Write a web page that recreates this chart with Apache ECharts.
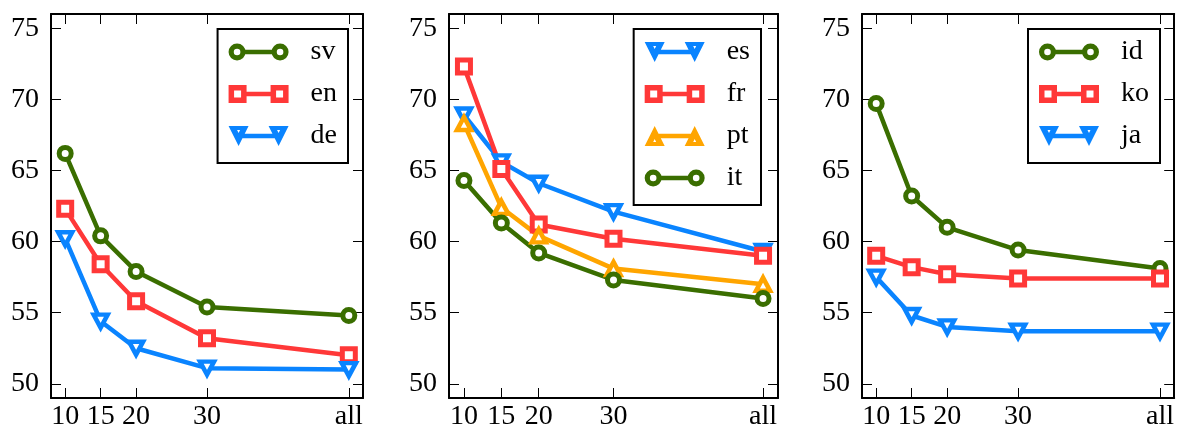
<!DOCTYPE html>
<html>
<head>
<meta charset="utf-8">
<script src="https://cdn.jsdelivr.net/npm/echarts@6/dist/echarts.min.js"></script>
<style>
  html, body { margin: 0; padding: 0; background: #fff; }
  #main { width: 1177px; height: 432px; }
</style>
</head>
<body>
<div id="main"></div>
<script>
// x positions (the "all" column sits at 50 on the axis)
const xValues = [10, 15, 20, 30, 50];
const xTickLabels = ['10', '15', '20', '30', 'all'];
const yTicks = [50, 55, 60, 65, 70, 75];

// panel 1
const sv = [66.2, 60.4, 57.9, 55.4, 54.8];
const en = [62.3, 58.4, 55.8, 53.2, 52.0];
const de = [60.2, 54.4, 52.5, 51.1, 51.0];
// panel 2
const es = [68.9, 65.6, 64.1, 62.1, 59.3];
const fr = [72.3, 65.1, 61.2, 60.2, 59.0];
const pt = [68.3, 62.4, 60.4, 58.1, 57.0];
const it = [64.3, 61.3, 59.2, 57.3, 56.0];
// panel 3
const id = [69.7, 63.2, 61.0, 59.4, 58.1];
const ko = [59.0, 58.2, 57.7, 57.4, 57.4];
const ja = [57.5, 54.8, 54.0, 53.7, 53.7];

const GREEN = '#3a6e00', RED = '#ff3838', BLUE = '#0a84ff', ORANGE = '#ffa500';
const FONT = '"Liberation Serif", "DejaVu Serif", serif';
const FS = 28;

const panels = [
  { series: [['sv', sv, GREEN, 'circle'], ['en', en, RED, 'square'], ['de', de, BLUE, 'down']],
    grid: { left: 51, top: 14, width: 312, height: 384 }, legendRight: 829 },
  { series: [['es', es, BLUE, 'down'], ['fr', fr, RED, 'square'], ['pt', pt, ORANGE, 'up'], ['it', it, GREEN, 'circle']],
    grid: { left: 449, top: 14, width: 329, height: 384 }, legendRight: 416 },
  { series: [['id', id, GREEN, 'circle'], ['ko', ko, RED, 'square'], ['ja', ja, BLUE, 'down']],
    grid: { left: 862, top: 14, width: 314, height: 384 }, legendRight: 17 }
];

// marker look in the plot
const markers = {
  circle: { symbol: 'circle', symbolSize: 12, symbolRotate: 0, bw: 5 },
  square: { symbol: 'rect', symbolSize: 13, symbolRotate: 0, bw: 5 },
  down:   { symbol: 'triangle', symbolSize: [14, 13], symbolRotate: 180, bw: 4.5 },
  up:     { symbol: 'triangle', symbolSize: [14, 13], symbolRotate: 0, bw: 4.5 }
};

// legend handles: line with a marker at each end (60 x 20 box)
const anchors = 'M0 0L0.01 0ZM60 20L59.99 20Z';
const bar = 'M14 7.8H46V12.2H14Z';
function ring(cx, cy, r1, r2) {
  return 'M' + (cx - r1) + ' ' + cy + 'A' + r1 + ' ' + r1 + ' 0 1 1 ' + (cx + r1) + ' ' + cy +
         'A' + r1 + ' ' + r1 + ' 0 1 1 ' + (cx - r1) + ' ' + cy + 'Z' +
         'M' + (cx - r2) + ' ' + cy + 'A' + r2 + ' ' + r2 + ' 0 1 0 ' + (cx + r2) + ' ' + cy +
         'A' + r2 + ' ' + r2 + ' 0 1 0 ' + (cx - r2) + ' ' + cy + 'Z';
}
const legendIcons = {
  circle: 'path://' + anchors + ring(8.5, 10, 8.5, 3.3) + ring(51.5, 10, 8.5, 3.3) + bar,
  square: 'path://' + anchors + 'M0 1H18V19H0ZM5.5 6.5V13.5H12.5V6.5Z' +
          'M42 1H60V19H42ZM47.5 6.5V13.5H54.5V6.5Z' + 'M18 7.8H42V12.2H18Z',
  down: 'path://M0 0H20L10 20ZM8.5 4L10 7L11.5 4Z' +
        'M40 0H60L50 20ZM48.5 4L50 7L51.5 4Z' + bar,
  up: 'path://M10 0L20 20H0ZM8.5 16L11.5 16L10 13Z' +
      'M50 0L60 20H40ZM48.5 16L51.5 16L50 13Z' + bar
};

const grids = [], xAxes = [], yAxes = [], legends = [], series = [];

panels.forEach(function (p, i) {
  grids.push(p.grid);
  const line = { show: true, onZero: false, lineStyle: { color: '#000', width: 2 } };
  ['bottom', 'top'].forEach(function (pos) {
    xAxes.push({
      type: 'value', gridIndex: i, position: pos, min: 8, max: 52,
      axisLine: line,
      axisTick: { show: true, inside: true, length: 10, customValues: xValues, lineStyle: { color: '#000', width: 1 } },
      axisLabel: {
        show: pos === 'bottom', customValues: xValues, margin: 5,
        fontFamily: FONT, fontSize: FS, color: '#000',
        formatter: function (v) { return xTickLabels[xValues.indexOf(v)]; }
      },
      splitLine: { show: false }
    });
  });
  ['left', 'right'].forEach(function (pos) {
    yAxes.push({
      type: 'value', gridIndex: i, position: pos, min: 49, max: 76,
      axisLine: line,
      axisTick: { show: true, inside: true, length: 10, customValues: yTicks, lineStyle: { color: '#000', width: 1 } },
      axisLabel: {
        show: pos === 'left', customValues: yTicks, margin: 12,
        fontFamily: FONT, fontSize: FS, color: '#000'
      },
      splitLine: { show: false }
    });
  });

  legends.push({
    orient: 'vertical', right: p.legendRight, top: 29,
    itemWidth: 60, itemHeight: 20, itemGap: 14,
    padding: [9, 11, 13, 11],
    borderColor: '#000', borderWidth: 2, borderRadius: 0, backgroundColor: '#fff',
    selectedMode: false,
    textStyle: { fontFamily: FONT, fontSize: FS, lineHeight: 28, color: '#000', padding: [0, 0, 0, 17] },
    data: p.series.map(function (s) {
      return { name: s[0], icon: legendIcons[s[3]], itemStyle: { color: s[2], borderWidth: 0 } };
    })
  });

  p.series.forEach(function (s) {
    const m = markers[s[3]];
    series.push({
      name: s[0], type: 'line', xAxisIndex: i * 2, yAxisIndex: i * 2,
      data: s[1].map(function (v, k) { return [xValues[k], v]; }),
      symbol: m.symbol, symbolSize: m.symbolSize, symbolRotate: m.symbolRotate,
      showSymbol: true, showAllSymbol: true,
      lineStyle: { color: s[2], width: 4.5, join: 'round' },
      itemStyle: { color: '#fff', borderColor: s[2], borderWidth: m.bw },
      emphasis: { disabled: true }
    });
  });
});

const chart = echarts.init(document.getElementById('main'));
chart.setOption({
  animation: false,
  backgroundColor: '#fff',
  grid: grids,
  xAxis: xAxes,
  yAxis: yAxes,
  legend: legends,
  series: series
});
</script>
</body>
</html>
